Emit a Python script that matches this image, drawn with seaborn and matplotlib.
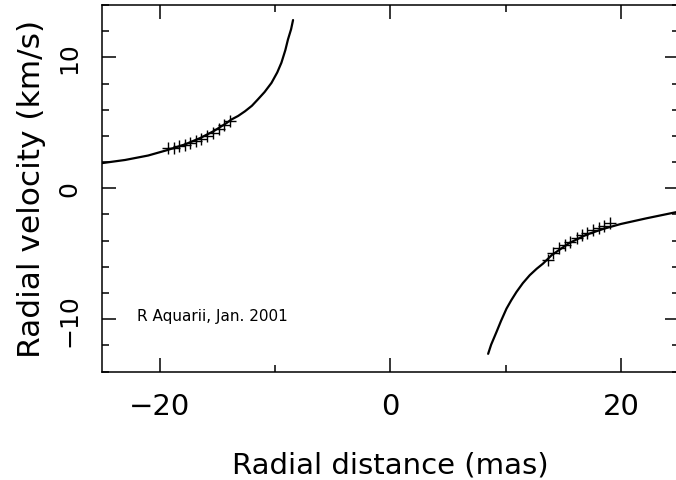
import matplotlib
matplotlib.use('Agg')
import matplotlib.pyplot as plt
import seaborn as sns
from matplotlib.ticker import MultipleLocator

# ------------------------------------------------------------
# Data (radial distance in mas, velocity in km/s)
# ------------------------------------------------------------
# model curve, approaching side
curve_left_x = [-25.0, -23.0, -21.0, -19.4, -17.8, -16.5, -15.3, -14.2,
                -13.8, -13.2, -12.6, -12.0, -11.5, -10.9, -10.3, -9.8,
                -9.44, -9.1, -8.87, -8.6, -8.43]
curve_left_v = [1.92, 2.16, 2.50, 2.90, 3.35, 3.83, 4.37, 4.98,
                5.24, 5.52, 5.88, 6.30, 6.77, 7.35, 8.05, 8.85,
                9.59, 10.55, 11.37, 12.15, 12.85]

# model curve, receding side
curve_right_x = [8.49, 8.75, 9.21, 9.6, 10.08, 10.5, 10.95, 11.5, 12.10,
                 12.7, 13.26, 14.0, 15.5, 17.0, 18.5, 20.0, 22.2, 25.0]
curve_right_v = [-12.65, -11.95, -10.99, -10.15, -9.20, -8.55, -7.92, -7.25,
                 -6.64, -6.15, -5.75, -5.11, -4.20, -3.55, -3.10, -2.73,
                 -2.30, -1.79]

# maser spots
spots_left_x = [-19.28, -18.79, -18.32, -17.83, -17.34, -16.82,
                -16.38, -15.90, -15.38, -14.88, -14.42, -13.93]
spots_left_v = [3.04, 3.11, 3.20, 3.33, 3.46, 3.63,
                3.78, 3.97, 4.21, 4.51, 4.80, 5.10]
spots_right_x = [13.64, 14.13, 14.62, 15.14, 15.63, 16.16,
                 16.59, 17.08, 17.60, 18.09, 18.55, 19.05]
spots_right_v = [-5.49, -4.98, -4.60, -4.34, -4.09, -3.83,
                 -3.58, -3.39, -3.20, -3.07, -2.89, -2.68]

label_text = 'R Aquarii, Jan. 2001'

# ------------------------------------------------------------
# Plot
# ------------------------------------------------------------
sns.set_style('ticks')
plt.rcParams['font.family'] = ['DejaVu Sans']
plt.rcParams['text.color'] = 'black'
plt.rcParams['axes.labelcolor'] = 'black'
plt.rcParams['xtick.color'] = 'black'
plt.rcParams['ytick.color'] = 'black'

fig = plt.figure(figsize=(6.76, 4.81), dpi=100)
ax = fig.add_axes([102 / 676, (481 - 372.5) / 481, 576.5 / 676, 366.5 / 481])

for cx, cv in [(curve_left_x, curve_left_v), (curve_right_x, curve_right_v)]:
    sns.lineplot(x=cx, y=cv, sort=False, color='black', linewidth=1.6,
                 ax=ax, legend=False)

for sx, sv in [(spots_left_x, spots_left_v), (spots_right_x, spots_right_v)]:
    sns.scatterplot(x=sx, y=sv, marker='+', s=85, color='black',
                    linewidth=1.0, ax=ax, legend=False)

ax.set_xlim(-25, 25)
ax.set_ylim(-14, 14)
ax.xaxis.set_major_locator(MultipleLocator(20))
ax.xaxis.set_minor_locator(MultipleLocator(10))
ax.yaxis.set_major_locator(MultipleLocator(10))
ax.yaxis.set_minor_locator(MultipleLocator(2))

ax.tick_params(which='both', direction='in', top=True, right=True,
               width=1.1, color='black')
ax.tick_params(which='major', length=10)
ax.tick_params(which='minor', length=5)
ax.tick_params(axis='x', labelsize=21, pad=15)
ax.tick_params(axis='y', labelsize=18, pad=15, labelrotation=90)
for lab in ax.get_yticklabels():
    lab.set_va('center')

for sp in ax.spines.values():
    sp.set_linewidth(1.1)
    sp.set_color('black')

ax.set_xlabel('Radial distance (mas)', fontsize=21, labelpad=22)
ax.set_ylabel('Radial velocity (km/s)', fontsize=22.5, labelpad=8)

ax.text(-22.0, -9.69, label_text, fontsize=11, va='center', ha='left')

fig.savefig('out.png', dpi=100)
plt.close(fig)
